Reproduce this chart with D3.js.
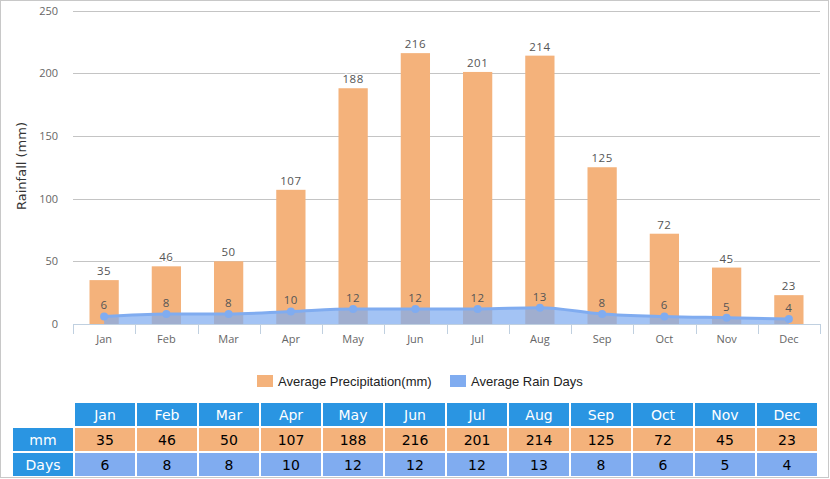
<!DOCTYPE html>
<html>
<head>
<meta charset="utf-8">
<script src="https://cdn.jsdelivr.net/npm/d3@7"></script>
<style>
  body { margin: 0; background: #fff; }
  svg { display: block; }
</style>
</head>
<body>
<svg width="830" height="479"></svg>
<script>
var months = ['Jan','Feb','Mar','Apr','May','Jun','Jul','Aug','Sep','Oct','Nov','Dec'];
var precip = [35, 46, 50, 107, 188, 216, 201, 214, 125, 72, 45, 23];
var rainDays = [6, 8, 8, 10, 12, 12, 12, 13, 8, 6, 5, 4];
var yTicks = [0, 50, 100, 150, 200, 250];
var legendNames = ['Average Precipitation(mm)', 'Average Rain Days'];
var rowNames = ['mm', 'Days'];

var orange = '#f4b27b';
var blue = '#80acf0';
var headBlue = '#2a95e2';

var svg = d3.select('svg');

// outer border
svg.append('rect')
    .attr('x', 0.5).attr('y', 0.5)
    .attr('width', 828).attr('height', 477)
    .attr('fill', 'none')
    .attr('stroke', '#c8c8c8');

var x = d3.scaleBand().domain(months).range([73, 820]);
var y = d3.scaleLinear().domain([0, 250]).range([324, 10.5]);
var barW = x.bandwidth() * 0.47;
var cx = function(i){ return x(months[i]) + x.bandwidth() / 2; };

// gridlines
svg.append('g').selectAll('line')
    .data(yTicks.slice(1))
    .enter().append('line')
    .attr('x1', 73).attr('x2', 820)
    .attr('y1', function(d){ return Math.round(y(d)) + 0.5; })
    .attr('y2', function(d){ return Math.round(y(d)) + 0.5; })
    .attr('stroke', '#c4c4c4');

// y labels
svg.append('g').selectAll('text')
    .data(yTicks)
    .enter().append('text')
    .attr('x', 58)
    .attr('y', function(d){ return y(d) + 4; })
    .attr('text-anchor', 'end')
    .attr('font-family', 'Open Sans, sans-serif')
    .attr('font-size', 11)
    .attr('fill', '#666')
    .text(function(d){ return d; });

// y title
svg.append('text')
    .attr('transform', 'translate(26,166) rotate(-90)')
    .attr('text-anchor', 'middle')
    .attr('font-family', 'DejaVu Sans, sans-serif')
    .attr('font-size', 13)
    .attr('fill', '#333')
    .text('Rainfall (mm)');

// bars
svg.append('g').selectAll('rect')
    .data(precip)
    .enter().append('rect')
    .attr('x', function(d, i){ return cx(i) - barW / 2; })
    .attr('y', function(d){ return y(d); })
    .attr('width', barW)
    .attr('height', function(d){ return y(0) - y(d); })
    .attr('fill', orange);

// rain days area + line
var area = d3.area()
    .x(function(d, i){ return cx(i); })
    .y0(y(0))
    .y1(function(d){ return y(d); })
    .curve(d3.curveMonotoneX);

var line = d3.line()
    .x(function(d, i){ return cx(i); })
    .y(function(d){ return y(d); })
    .curve(d3.curveMonotoneX);

svg.append('path')
    .datum(rainDays)
    .attr('d', area)
    .attr('fill', blue)
    .attr('fill-opacity', 0.72);

svg.append('path')
    .datum(rainDays)
    .attr('d', line)
    .attr('fill', 'none')
    .attr('stroke', blue)
    .attr('stroke-width', 3);

svg.append('g').selectAll('circle')
    .data(rainDays)
    .enter().append('circle')
    .attr('cx', function(d, i){ return cx(i); })
    .attr('cy', function(d){ return y(d); })
    .attr('r', 4)
    .attr('fill', blue);

// x axis
svg.append('line')
    .attr('x1', 73).attr('x2', 820)
    .attr('y1', 324.5).attr('y2', 324.5)
    .attr('stroke', '#c0d0e0');

var bounds = months.map(function(m){ return x(m); }).concat([x.range()[1]]);
svg.append('g').selectAll('line')
    .data(bounds)
    .enter().append('line')
    .attr('x1', function(d){ return Math.round(d) + 0.5; })
    .attr('x2', function(d){ return Math.round(d) + 0.5; })
    .attr('y1', 324).attr('y2', 334)
    .attr('stroke', '#c0d0e0');

svg.append('g').selectAll('text')
    .data(months)
    .enter().append('text')
    .attr('x', function(d, i){ return cx(i); })
    .attr('y', 343)
    .attr('text-anchor', 'middle')
    .attr('font-family', 'Open Sans, sans-serif')
    .attr('font-size', 11)
    .attr('fill', '#666')
    .text(function(d){ return d; });

// data labels
function labels(data, dy, halo) {
    svg.append('g').selectAll('text')
        .data(data)
        .enter().append('text')
        .attr('x', function(d, i){ return cx(i); })
        .attr('y', function(d){ return y(d) + dy; })
        .attr('text-anchor', 'middle')
        .attr('font-family', 'Open Sans, sans-serif')
        .attr('font-size', 11.5)
        .attr('letter-spacing', 0.5)
        .attr('fill', '#555')
        .attr('stroke', halo ? '#fff' : 'none')
        .attr('stroke-width', 3)
        .attr('stroke-linejoin', 'round')
        .attr('paint-order', 'stroke')
        .text(function(d){ return d; });
}
labels(precip, -5, true);
labels(rainDays, -7, false);

// legend
var legendX = [257, 450];
var lg = svg.append('g').selectAll('g')
    .data(legendNames)
    .enter().append('g')
    .attr('transform', function(d, i){ return 'translate(' + legendX[i] + ',375)'; });
lg.append('rect')
    .attr('width', 16).attr('height', 12)
    .attr('fill', function(d, i){ return i === 0 ? orange : blue; });
lg.append('text')
    .attr('x', 21).attr('y', 10.5)
    .attr('font-family', 'Liberation Sans, Arial, sans-serif')
    .attr('font-size', 13)
    .attr('fill', '#222')
    .text(function(d){ return d; });

// table
var tx = d3.scaleBand().domain(months).range([75, 817]).paddingInner(2 / 62);
var rowY = [403, 428, 453];
var rowH = 23;
var tfont = 'DejaVu Sans, Verdana, sans-serif';

var head = svg.append('g');
head.selectAll('rect')
    .data(months)
    .enter().append('rect')
    .attr('x', function(d){ return tx(d); })
    .attr('y', rowY[0])
    .attr('width', tx.bandwidth())
    .attr('height', rowH)
    .attr('fill', headBlue);
head.selectAll('text')
    .data(months)
    .enter().append('text')
    .attr('x', function(d){ return tx(d) + tx.bandwidth() / 2; })
    .attr('y', rowY[0] + 17)
    .attr('text-anchor', 'middle')
    .attr('font-family', tfont)
    .attr('font-size', 14)
    .attr('fill', '#fff')
    .text(function(d){ return d; });

[precip, rainDays].forEach(function(vals, r){
    var g = svg.append('g');
    var yy = rowY[r + 1];
    g.append('rect')
        .attr('x', 13).attr('y', yy)
        .attr('width', 60).attr('height', rowH)
        .attr('fill', headBlue);
    g.append('text')
        .attr('x', 43).attr('y', yy + 17)
        .attr('text-anchor', 'middle')
        .attr('font-family', tfont)
        .attr('font-size', 14)
        .attr('fill', '#fff')
        .text(rowNames[r]);
    g.selectAll('rect.cell')
        .data(vals)
        .enter().append('rect')
        .attr('class', 'cell')
        .attr('x', function(d, i){ return tx(months[i]); })
        .attr('y', yy)
        .attr('width', tx.bandwidth())
        .attr('height', rowH)
        .attr('fill', r === 0 ? orange : blue);
    g.selectAll('text.val')
        .data(vals)
        .enter().append('text')
        .attr('class', 'val')
        .attr('x', function(d, i){ return tx(months[i]) + tx.bandwidth() / 2; })
        .attr('y', yy + 17)
        .attr('text-anchor', 'middle')
        .attr('font-family', tfont)
        .attr('font-size', 14)
        .attr('fill', '#000')
        .text(function(d){ return d; });
});
</script>
</body>
</html>
